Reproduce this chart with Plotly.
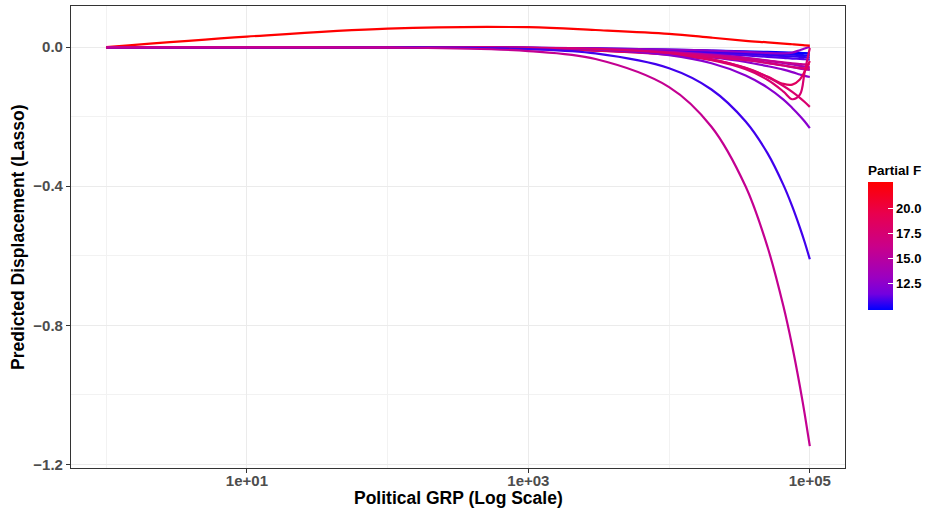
import plotly.graph_objects as go
from plotly.colors import sample_colorscale

# Political GRP grid (log scale) at which each model curve is evaluated
grp = [1, 10, 100, 1000, 3000, 10000, 20000, 35000, 50000, 65000, 75000, 85000, 92000, 100000]

# Partial F statistic of each model (drives the line colour)
partial_f = [9.9, 10.3, 10.6, 11.0, 12.9, 13.4, 14.2, 12.6, 16.0, 17.2, 17.6, 18.6, 12.4, 17.8, 10.8, 22.6, 15.8]

# Predicted displacement curves, one list per model, aligned with `grp`
curves = [
    [0, 0, -0.0003, -0.002, -0.004, -0.007, -0.010, -0.012, -0.014, -0.0155, -0.0165, -0.017, -0.0175, -0.018],
    [0, 0, -0.0003, -0.002, -0.005, -0.009, -0.013, -0.016, -0.019, -0.021, -0.022, -0.023, -0.0235, -0.024],
    [0, 0, -0.0004, -0.0025, -0.006, -0.011, -0.016, -0.020, -0.023, -0.026, -0.027, -0.028, -0.029, -0.030],
    [0, 0, -0.0005, -0.003, -0.007, -0.013, -0.019, -0.024, -0.028, -0.031, -0.033, -0.034, -0.035, -0.036],
    [0, 0, -0.0004, -0.002, -0.004, -0.007, -0.010, -0.014, -0.017, -0.018, -0.016, -0.009, -0.004, 0.001],
    [0, 0, -0.0005, -0.003, -0.007, -0.014, -0.022, -0.031, -0.039, -0.046, -0.050, -0.054, -0.056, -0.058],
    [0, 0, -0.0005, -0.003, -0.008, -0.016, -0.025, -0.036, -0.045, -0.053, -0.058, -0.062, -0.064, -0.066],
    [0, 0, -0.0006, -0.004, -0.009, -0.019, -0.030, -0.043, -0.055, -0.065, -0.072, -0.079, -0.083, -0.086],
    [0, 0, -0.0005, -0.003, -0.008, -0.015, -0.024, -0.032, -0.039, -0.044, -0.047, -0.049, -0.050, -0.050],
    [0, 0, -0.0006, -0.004, -0.009, -0.018, -0.028, -0.038, -0.046, -0.053, -0.057, -0.060, -0.061, -0.062],
    [0, 0, -0.0006, -0.004, -0.010, -0.022, -0.038, -0.064, -0.094, -0.128, -0.150, -0.137, -0.070, -0.003],
    [0, 0, -0.0006, -0.004, -0.010, -0.021, -0.036, -0.060, -0.085, -0.106, -0.108, -0.093, -0.070, -0.040],
    [0, 0, -0.0002, -0.0023, -0.007, -0.0233, -0.0466, -0.0816, -0.1165, -0.151, -0.175, -0.198, -0.214, -0.233],
    [0, 0, -0.0002, -0.0017, -0.0052, -0.0172, -0.0344, -0.0602, -0.086, -0.112, -0.129, -0.146, -0.158, -0.172],
    [0, -0.0001, -0.0006, -0.0061, -0.0183, -0.061, -0.122, -0.214, -0.305, -0.397, -0.458, -0.519, -0.561, -0.610],
    [0, 0.030, 0.053, 0.057, 0.049, 0.038, 0.027, 0.018, 0.0135, 0.010, 0.008, 0.006, 0.005, 0.004],
    [0, -0.0001, -0.0011, -0.0115, -0.0344, -0.115, -0.229, -0.401, -0.574, -0.746, -0.860, -0.975, -1.055, -1.147],
]

x_ticks = [10, 1000, 100000]
x_tick_labels = ["1e+01", "1e+03", "1e+05"]
x_minor = [1, 100, 10000]
y_ticks = [0.0, -0.4, -0.8, -1.2]
y_tick_labels = ["0.0", "\u22120.4", "\u22120.8", "\u22121.2"]
y_minor = [-0.2, -0.6, -1.0]
cbar_ticks = [12.5, 15.0, 17.5, 20.0]
cbar_tick_labels = ["12.5", "15.0", "17.5", "20.0"]

# blue -> red gradient (perceptual midpoints)
colorscale = [
    [0.0, "#0000FF"],
    [0.125, "#7300E0"],
    [0.25, "#9A00C2"],
    [0.5, "#CA0089"],
    [0.75, "#E8004F"],
    [1.0, "#FF0000"],
]

f_min, f_max = min(partial_f), max(partial_f)
norm = [(f - f_min) / (f_max - f_min) for f in partial_f]
line_colors = sample_colorscale(colorscale, norm)

FONT = "Liberation Sans, Arial, sans-serif"

fig = go.Figure()
for ys, col in zip(curves, line_colors):
    fig.add_trace(go.Scatter(
        x=grp, y=ys, mode="lines",
        line=dict(color=col, width=2.2, shape="spline", smoothing=1.0),
        showlegend=False, hoverinfo="skip",
    ))

# colour bar for the Partial F scale
fig.add_trace(go.Scatter(
    x=[grp[0], grp[0]], y=[0, 0], mode="markers",
    marker=dict(
        size=0.1, opacity=0, color=[f_min, f_max], cmin=f_min, cmax=f_max,
        colorscale=colorscale, showscale=True,
        colorbar=dict(
            title=dict(text="<b>Partial F</b>", side="top",
                       font=dict(family=FONT, size=13.5, color="#000000")),
            thickness=25, thicknessmode="pixels",
            len=148, lenmode="pixels",
            xref="container", x=868 / 925, xanchor="left", xpad=0,
            y=0.502, yanchor="middle", ypad=0,
            outlinewidth=0,
            tickvals=cbar_ticks, ticktext=["<b>%s</b>" % t for t in cbar_tick_labels],
            ticks="inside", ticklen=5, tickcolor="white", tickwidth=1,
            tickfont=dict(family=FONT, size=13, color="#000000"),
        ),
    ),
    showlegend=False, hoverinfo="skip",
))

fig.update_layout(
    width=925, height=515,
    margin=dict(l=71, r=80, t=6, b=47, autoexpand=False),
    paper_bgcolor="white", plot_bgcolor="white",
    font=dict(family=FONT),
    xaxis=dict(
        type="log", range=[-0.25, 5.25],
        tickvals=x_ticks, ticktext=["<b>%s</b>" % t for t in x_tick_labels],
        tickfont=dict(family=FONT, size=15, color="#4D4D4D"),
        ticks="outside", ticklen=4, tickcolor="#333333", ticklabelstandoff=-5,
        showgrid=True, gridcolor="#EBEBEB", gridwidth=1.1,
        minor=dict(tickvals=x_minor, showgrid=True, gridcolor="#F2F2F2", gridwidth=0.6, ticks=""),
        showline=True, linecolor="#333333", linewidth=1.1, mirror=True,
        zeroline=False, automargin=False,
    ),
    yaxis=dict(
        range=[-1.21, 0.118],
        tickvals=y_ticks, ticktext=["<b>%s</b>" % t for t in y_tick_labels],
        tickfont=dict(family=FONT, size=15, color="#4D4D4D"),
        ticks="outside", ticklen=4, tickcolor="#333333",
        showgrid=True, gridcolor="#EBEBEB", gridwidth=1.1,
        minor=dict(tickvals=y_minor, showgrid=True, gridcolor="#F2F2F2", gridwidth=0.6, ticks=""),
        showline=True, linecolor="#333333", linewidth=1.1, mirror=True,
        zeroline=False, automargin=False,
    ),
    annotations=[
        dict(text="<b>Political GRP (Log Scale)</b>", xref="paper", yref="paper",
             x=0.5, y=(468 - 498) / 462, xanchor="center", yanchor="middle",
             showarrow=False, font=dict(family=FONT, size=17.5, color="#000000")),
        dict(text="<b>Predicted Displacement (Lasso)</b>", xref="paper", yref="paper",
             x=(18 - 71) / 774, y=0.5, xanchor="center", yanchor="middle", textangle=-90,
             showarrow=False, font=dict(family=FONT, size=17.5, color="#000000")),
    ],
)

fig.write_html("out.html")
